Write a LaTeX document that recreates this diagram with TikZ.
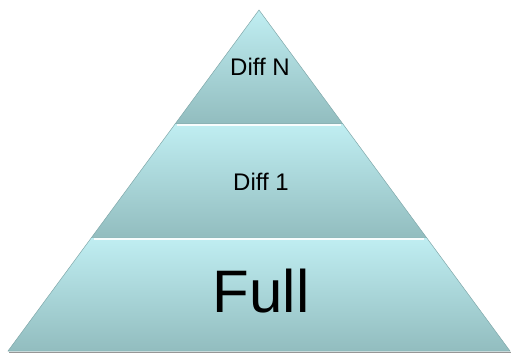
\documentclass[tikz,border=0pt]{standalone}
\usepackage{fontspec}
\setmainfont{Liberation Sans}
\usetikzlibrary{calc}
\definecolor{bandtop}{RGB}{192,238,242}
\definecolor{bandbottom}{RGB}{146,189,191}
\definecolor{edgeline}{RGB}{128,168,170}
\definecolor{shadowgray}{RGB}{150,150,150}
\tikzset{
  layer/.style={top color=bandtop,bottom color=bandbottom,draw=edgeline,line width=0.5pt},
  gloss/.style={draw=white,line width=1.4pt,opacity=0.9},
  layerlabel/.style={font=\fontsize{24}{28}\selectfont,text=black,inner sep=0pt},
}

\begin{document}
\begin{tikzpicture}[x=1pt,y=-1pt]
  \useasboundingbox (0,0) rectangle (511,356);
  \coordinate (apex) at (259,10);
  \coordinate (bl) at (8,351);
  \coordinate (br) at (510,351);
  \coordinate (l1) at ($(apex)!1/3!(bl)$);
  \coordinate (r1) at ($(apex)!1/3!(br)$);
  \coordinate (l2) at ($(apex)!2/3!(bl)$);
  \coordinate (r2) at ($(apex)!2/3!(br)$);
  % drop shadow under the base
  \draw[shadowgray,line width=1.5pt] ($(bl)+(1,1.5)$) -- ($(br)+(1,1.5)$);
  % the three layers
  \path[layer] (apex) -- (r1) -- (l1) -- cycle;
  \path[layer] (l1) -- (r1) -- (r2) -- (l2) -- cycle;
  \path[layer] (l2) -- (r2) -- (br) -- (bl) -- cycle;
  \draw[gloss] ($(l1)+(2,1.5)$) -- ($(r1)+(-2,1.5)$);
  \draw[gloss] ($(l2)+(2,1.5)$) -- ($(r2)+(-2,1.5)$);
  \node[layerlabel] (diffn) at (260,67) {Diff N};
  \node[layerlabel] (diff1) at (261,182) {Diff 1};
  \node[layerlabel,font=\fontsize{60}{70}\selectfont] (full) at (261,291) {Full};
\end{tikzpicture}
\end{document}
